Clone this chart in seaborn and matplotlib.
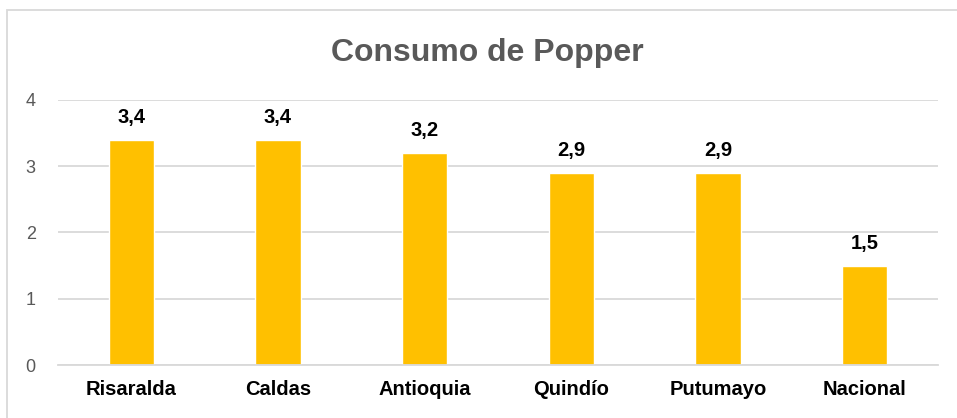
import matplotlib
matplotlib.use("Agg")
import matplotlib.pyplot as plt
import seaborn as sns
import pandas as pd

# datos del grafico
regiones = ["Risaralda", "Caldas", "Antioquia", "Quindío", "Putumayo", "Nacional"]
consumo = [3.4, 3.4, 3.2, 2.9, 2.9, 1.5]
y_ticks = [0, 1, 2, 3, 4]

sns.set_style("white")
plt.rcParams["font.family"] = ["Liberation Sans", "DejaVu Sans"]

df = pd.DataFrame({"region": regiones, "valor": consumo})

W, H = 957, 418
fig = plt.figure(figsize=(W / 100, H / 100), dpi=100)
ax = fig.add_axes([58 / W, 1 - 365 / H, (938 - 58) / W, (365 - 100) / H])

sns.barplot(data=df, x="region", y="valor", color="#FFC000", saturation=1,
            width=0.31, ax=ax)

ax.set_ylim(0, 4)
ax.set_yticks(y_ticks)
ax.set_xlim(-0.5, len(regiones) - 0.5)
ax.yaxis.grid(True, color="#d9d9d9", linewidth=1.3)
ax.set_axisbelow(True)
for s in ["top", "right", "left"]:
    ax.spines[s].set_visible(False)
ax.spines["bottom"].set_color("#d9d9d9")
ax.spines["bottom"].set_linewidth(1.3)
ax.set_xlabel("")
ax.set_ylabel("")
ax.tick_params(axis="y", length=0, pad=16, labelsize=13, labelcolor="#595959")
ax.tick_params(axis="x", length=0, pad=11, labelsize=14.5)
for lbl in ax.get_xticklabels():
    lbl.set_fontweight("bold")
    lbl.set_color("black")

# etiquetas de valor
for i, v in enumerate(consumo):
    ax.annotate(f"{v:.1f}".replace(".", ","), (i, v), xytext=(0, 9),
                textcoords="offset points", ha="center", va="bottom",
                fontsize=14.5, fontweight="bold", color="black")

fig.text(487 / W, 1 - 61 / H, "Consumo de Popper", ha="center", va="baseline",
         fontsize=23, fontweight="bold", color="#595959")

# borde del grafico
border = plt.Rectangle((7 / W, -0.05), 1.0, 1 - 10 / H + 0.05,
                       transform=fig.transFigure, fill=False,
                       edgecolor="#d9d9d9", linewidth=1.3)
fig.patches.append(border)

fig.savefig("out.png", dpi=100)
